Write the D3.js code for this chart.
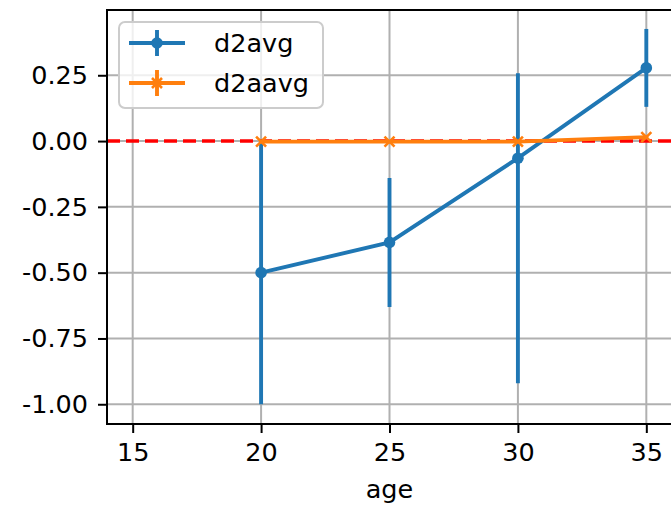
<!DOCTYPE html>
<html>
<head>
<meta charset="utf-8">
<script src="https://cdn.jsdelivr.net/npm/d3@7"></script>
<style>
  html, body { margin: 0; padding: 0; background: #fff; }
  svg { display: block; font-family: "DejaVu Sans", sans-serif; }
</style>
</head>
<body>
<svg id="chart" width="671" height="505"></svg>
<script>
// ---- data ----
const ages = [20, 25, 30, 35];
const d2avg = [-0.50, -0.385, -0.065, 0.278];
const d2avgErrLow = [0.50, 0.245, 0.855, 0.148];
const d2avgErrHigh = [0.50, 0.245, 0.323, 0.148];
const d2aavg = [-0.002, -0.002, -0.002, 0.015];
const d2aavgErr = [0.003, 0.003, 0.003, 0.003];
const seriesNames = ["d2avg", "d2aavg"];
const xTicks = [15, 20, 25, 30, 35];
const yTicks = [0.25, 0.00, -0.25, -0.50, -0.75, -1.00];
const xLabel = "age";

// ---- layout ----
const W = 671, H = 505;
const L = 107, R = 672, T = 10, B = 424;
const FS = 25.5;
const blue = "#1f77b4", orange = "#ff7f0e";

const svg = d3.select("#chart");
const x = d3.scaleLinear().domain([14, 36]).range([L, R]);
const y = d3.scaleLinear().domain([-1.075, 0.498]).range([B, T]);

svg.append("defs").append("clipPath").attr("id", "clip")
  .append("rect").attr("x", L).attr("y", T).attr("width", R - L).attr("height", B - T);

// grid
const grid = svg.append("g");
grid.selectAll(".gx").data(xTicks).enter().append("line")
  .attr("x1", d => x(d)).attr("x2", d => x(d)).attr("y1", T).attr("y2", B)
  .attr("stroke", "#b0b0b0").attr("stroke-width", 2);
grid.selectAll(".gy").data(yTicks).enter().append("line")
  .attr("x1", L).attr("x2", R).attr("y1", d => y(d)).attr("y2", d => y(d))
  .attr("stroke", "#b0b0b0").attr("stroke-width", 2);

const plot = svg.append("g").attr("clip-path", "url(#clip)");

// red dashed zero line
plot.append("line")
  .attr("x1", L).attr("x2", R).attr("y1", y(0)).attr("y2", y(0))
  .attr("stroke", "red").attr("stroke-width", 3.5).attr("stroke-dasharray", "13,6");

// blue series
const line = d3.line().x(d => x(d[0])).y(d => y(d[1]));
const blueData = ages.map((a, i) => [a, d2avg[i]]);
plot.selectAll(".be").data(ages).enter().append("line")
  .attr("x1", d => x(d)).attr("x2", d => x(d))
  .attr("y1", (d, i) => y(d2avg[i] + d2avgErrHigh[i]))
  .attr("y2", (d, i) => y(d2avg[i] - d2avgErrLow[i]))
  .attr("stroke", blue).attr("stroke-width", 3.9);
plot.append("path").datum(blueData).attr("d", line)
  .attr("fill", "none").attr("stroke", blue).attr("stroke-width", 3.9);
plot.selectAll(".bm").data(blueData).enter().append("circle")
  .attr("cx", d => x(d[0])).attr("cy", d => y(d[1])).attr("r", 5.8)
  .attr("fill", blue);

// orange series
const orangeData = ages.map((a, i) => [a, d2aavg[i]]);
plot.selectAll(".oe").data(ages).enter().append("line")
  .attr("x1", d => x(d)).attr("x2", d => x(d))
  .attr("y1", (d, i) => y(d2aavg[i] + d2aavgErr[i]))
  .attr("y2", (d, i) => y(d2aavg[i] - d2aavgErr[i]))
  .attr("stroke", orange).attr("stroke-width", 3.9);
plot.append("path").datum(orangeData).attr("d", line)
  .attr("fill", "none").attr("stroke", orange).attr("stroke-width", 3.9);
const xm = 5;
plot.selectAll(".om").data(orangeData).enter().append("path")
  .attr("d", d => {
    const cx = x(d[0]), cy = y(d[1]);
    return `M${cx - xm},${cy - xm}L${cx + xm},${cy + xm}M${cx - xm},${cy + xm}L${cx + xm},${cy - xm}`;
  })
  .attr("stroke", orange).attr("stroke-width", 2.6).attr("fill", "none");

// spines
svg.append("line").attr("x1", L).attr("x2", L).attr("y1", T - 1).attr("y2", B + 1)
  .attr("stroke", "#000").attr("stroke-width", 2);
svg.append("line").attr("x1", L - 1).attr("x2", R).attr("y1", B).attr("y2", B)
  .attr("stroke", "#000").attr("stroke-width", 2);
svg.append("line").attr("x1", L - 1).attr("x2", R).attr("y1", T).attr("y2", T)
  .attr("stroke", "#000").attr("stroke-width", 2);

// axes
const xAxis = d3.axisBottom(x).tickValues(xTicks).tickSize(9).tickPadding(10)
  .tickFormat(d3.format("d"));
const gx = svg.append("g").attr("transform", `translate(0,${B})`).call(xAxis);
const yAxis = d3.axisLeft(y).tickValues(yTicks).tickSize(9).tickPadding(10)
  .tickFormat(d => d3.format(".2f")(d).replace("\u2212", "-"));
const gy = svg.append("g").attr("transform", `translate(${L},0)`).call(yAxis);
[gx, gy].forEach(g => {
  g.select(".domain").remove();
  g.selectAll(".tick line").attr("stroke", "#000").attr("stroke-width", 2);
  g.selectAll(".tick text").attr("fill", "#000")
    .style("font-size", FS + "px").style("font-family", "DejaVu Sans, sans-serif");
});

svg.append("text").attr("x", (L + R) / 2).attr("y", 498)
  .attr("text-anchor", "middle").style("font-size", FS + "px").text(xLabel);

// legend
const leg = svg.append("g");
leg.append("rect").attr("x", 119).attr("y", 22).attr("width", 204).attr("height", 86)
  .attr("rx", 6).attr("fill", "#fff").attr("fill-opacity", 0.8)
  .attr("stroke", "#cccccc").attr("stroke-width", 2);
const legY = [43, 83];
const legCol = [blue, orange];
seriesNames.forEach((name, i) => {
  const g = leg.append("g");
  const cy = legY[i];
  g.append("line").attr("x1", 129).attr("x2", 185).attr("y1", cy).attr("y2", cy)
    .attr("stroke", legCol[i]).attr("stroke-width", 3.9);
  g.append("line").attr("x1", 157).attr("x2", 157).attr("y1", cy - 13).attr("y2", cy + 13)
    .attr("stroke", legCol[i]).attr("stroke-width", 3.9);
  if (i === 0) {
    g.append("circle").attr("cx", 157).attr("cy", cy).attr("r", 5.8).attr("fill", blue);
  } else {
    g.append("path")
      .attr("d", `M${157 - xm},${cy - xm}L${157 + xm},${cy + xm}M${157 - xm},${cy + xm}L${157 + xm},${cy - xm}`)
      .attr("stroke", orange).attr("stroke-width", 2.6);
  }
  g.append("text").attr("x", 214).attr("y", cy + 9.3)
    .style("font-size", FS + "px").attr("fill", "#000").text(name);
});
</script>
</body>
</html>
